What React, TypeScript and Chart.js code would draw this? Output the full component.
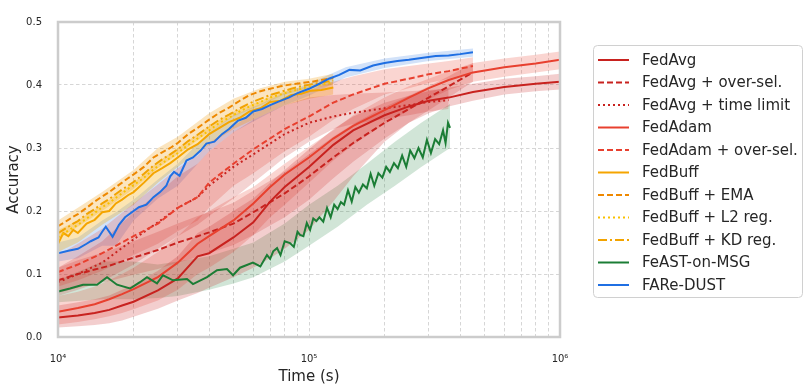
import React, { useEffect, useRef } from "react";
import { Chart, registerables } from "chart.js";

Chart.register(...registerables);

// ---------- axis ticks ----------
const X_TICKS = [1e4, 2e4, 3e4, 4e4, 5e4, 6e4, 7e4, 8e4, 9e4, 1e5, 2e5, 3e5, 4e5, 5e5, 6e5, 7e5, 8e5, 9e5, 1e6];
const X_MAJOR = [1e4, 1e5, 1e6];
const X_MAJOR_LABELS = ["10⁴", "10⁵", "10⁶"];
const Y_TICKS = [0, 0.1, 0.2, 0.3, 0.4, 0.5];
const Y_TICK_LABELS = ["0.0", "0.1", "0.2", "0.3", "0.4", "0.5"];

// ---------- FedAvg / FedAdam (full range) ----------
const T_FULL = [1e4, 1.2e4, 1.4e4, 1.6e4, 1.8e4, 2e4, 2.5e4, 3e4, 3.6e4, 4e4, 5e4, 6e4, 7e4, 8e4, 1e5, 1.25e5, 1.5e5, 2e5, 2.5e5, 3e5, 3.6e5, 4.5e5, 6e5, 8e5, 1e6];
const FEDAVG = [0.031, 0.034, 0.038, 0.043, 0.05, 0.056, 0.074, 0.093, 0.128, 0.133, 0.158, 0.182, 0.215, 0.238, 0.27, 0.305, 0.328, 0.352, 0.366, 0.375, 0.38, 0.389, 0.397, 0.402, 0.405];
const FEDAVG_LO = [0.015, 0.017, 0.019, 0.022, 0.026, 0.032, 0.045, 0.058, 0.07, 0.078, 0.095, 0.11, 0.125, 0.14, 0.17, 0.215, 0.255, 0.31, 0.34, 0.355, 0.366, 0.375, 0.385, 0.39, 0.393];
const FEDAVG_HI = [0.05, 0.055, 0.06, 0.066, 0.075, 0.083, 0.105, 0.128, 0.165, 0.175, 0.2, 0.22, 0.245, 0.265, 0.298, 0.33, 0.35, 0.372, 0.383, 0.39, 0.396, 0.402, 0.41, 0.414, 0.418];

const FEDADAM = [0.04, 0.046, 0.052, 0.06, 0.068, 0.076, 0.095, 0.118, 0.148, 0.16, 0.185, 0.212, 0.238, 0.258, 0.285, 0.315, 0.335, 0.36, 0.38, 0.395, 0.408, 0.42, 0.428, 0.434, 0.44];
const FEDADAM_LO = [0.02, 0.024, 0.028, 0.033, 0.038, 0.044, 0.058, 0.075, 0.1, 0.11, 0.135, 0.162, 0.19, 0.21, 0.245, 0.28, 0.305, 0.338, 0.36, 0.377, 0.392, 0.405, 0.413, 0.42, 0.425];
const FEDADAM_HI = [0.065, 0.072, 0.08, 0.09, 0.1, 0.11, 0.135, 0.16, 0.19, 0.2, 0.222, 0.238, 0.258, 0.275, 0.302, 0.328, 0.352, 0.38, 0.398, 0.41, 0.422, 0.435, 0.442, 0.448, 0.453];

// ---------- FedAvg + over-sel. ----------
const T_OS = [1e4, 1.2e4, 1.4e4, 1.6e4, 1.8e4, 2e4, 2.5e4, 3e4, 3.6e4, 4e4, 5e4, 6e4, 8e4, 1e5, 1.25e5, 1.5e5, 2e5, 2.5e5, 3e5, 3.6e5, 4.5e5];
const FEDAVG_OS = [0.09, 0.1, 0.107, 0.113, 0.12, 0.126, 0.138, 0.15, 0.16, 0.166, 0.18, 0.198, 0.228, 0.255, 0.285, 0.308, 0.34, 0.362, 0.38, 0.398, 0.42];
const FEDAVG_OS_LO = [0.07, 0.078, 0.084, 0.089, 0.094, 0.099, 0.108, 0.118, 0.127, 0.133, 0.146, 0.162, 0.19, 0.218, 0.252, 0.278, 0.315, 0.34, 0.36, 0.38, 0.405];
const FEDAVG_OS_HI = [0.11, 0.122, 0.13, 0.137, 0.145, 0.152, 0.167, 0.18, 0.192, 0.198, 0.213, 0.232, 0.262, 0.29, 0.318, 0.338, 0.365, 0.383, 0.398, 0.414, 0.435];

// ---------- FedAvg + time limit ----------
const T_TL = [1e4, 1.2e4, 1.5e4, 2e4, 2.5e4, 3e4, 3.6e4, 4e4, 5e4, 6e4, 8e4, 1e5, 1.25e5, 1.5e5, 2e5, 2.5e5, 3e5, 3.6e5];
const FEDAVG_TL = [0.087, 0.1, 0.118, 0.155, 0.182, 0.205, 0.222, 0.24, 0.27, 0.29, 0.322, 0.34, 0.35, 0.356, 0.363, 0.368, 0.373, 0.376];
const FEDAVG_TL_LO = [0.065, 0.075, 0.088, 0.115, 0.14, 0.16, 0.178, 0.192, 0.22, 0.245, 0.285, 0.31, 0.33, 0.338, 0.346, 0.352, 0.358, 0.362];
const FEDAVG_TL_HI = [0.11, 0.128, 0.152, 0.198, 0.228, 0.255, 0.275, 0.295, 0.325, 0.345, 0.368, 0.38, 0.384, 0.386, 0.388, 0.39, 0.392, 0.394];

// ---------- FedAdam + over-sel. ----------
const T_AOS = [1e4, 1.2e4, 1.5e4, 2e4, 2.5e4, 3e4, 3.6e4, 4e4, 5e4, 6e4, 8e4, 1e5, 1.25e5, 1.5e5, 2e5, 2.5e5, 3e5, 3.6e5, 4e5, 4.5e5];
const FEDADAM_OS = [0.103, 0.115, 0.133, 0.16, 0.18, 0.205, 0.222, 0.245, 0.275, 0.298, 0.33, 0.35, 0.372, 0.385, 0.402, 0.41, 0.417, 0.422, 0.426, 0.43];
const FEDADAM_OS_LO = [0.08, 0.09, 0.105, 0.13, 0.148, 0.168, 0.185, 0.205, 0.24, 0.26, 0.295, 0.318, 0.345, 0.362, 0.385, 0.395, 0.403, 0.41, 0.415, 0.418];
const FEDADAM_OS_HI = [0.13, 0.148, 0.172, 0.212, 0.242, 0.268, 0.288, 0.308, 0.335, 0.355, 0.377, 0.392, 0.405, 0.414, 0.425, 0.43, 0.434, 0.438, 0.441, 0.444];

// ---------- FedBuff family ----------
const T_FB = [1e4, 1.05e4, 1.1e4, 1.15e4, 1.2e4, 1.3e4, 1.4e4, 1.5e4, 1.6e4, 1.7e4, 1.8e4, 1.9e4, 2e4, 2.2e4, 2.4e4, 2.6e4, 2.8e4, 3e4, 3.3e4, 3.6e4, 4e4, 4.4e4, 4.8e4, 5.3e4, 5.8e4, 6.4e4, 7e4, 7.7e4, 8.5e4, 9.3e4, 1.02e5, 1.12e5, 1.25e5];
const FEDBUFF = [0.148, 0.165, 0.16, 0.17, 0.165, 0.18, 0.186, 0.198, 0.2, 0.212, 0.218, 0.225, 0.23, 0.245, 0.26, 0.268, 0.276, 0.285, 0.298, 0.306, 0.322, 0.332, 0.341, 0.348, 0.358, 0.363, 0.373, 0.375, 0.384, 0.386, 0.391, 0.392, 0.396];
const FEDBUFF_EMA = [0.176, 0.181, 0.186, 0.191, 0.195, 0.205, 0.215, 0.223, 0.23, 0.238, 0.245, 0.252, 0.258, 0.27, 0.285, 0.293, 0.3, 0.308, 0.322, 0.332, 0.345, 0.356, 0.364, 0.375, 0.384, 0.39, 0.394, 0.398, 0.401, 0.403, 0.405, 0.408, 0.411];
const FEDBUFF_L2 = [0.158, 0.164, 0.169, 0.174, 0.178, 0.188, 0.197, 0.206, 0.213, 0.221, 0.228, 0.235, 0.241, 0.253, 0.266, 0.276, 0.284, 0.292, 0.305, 0.315, 0.328, 0.34, 0.348, 0.358, 0.366, 0.373, 0.38, 0.385, 0.39, 0.394, 0.398, 0.401, 0.404];
const FEDBUFF_KD = [0.165, 0.17, 0.175, 0.18, 0.184, 0.195, 0.203, 0.212, 0.219, 0.227, 0.234, 0.24, 0.246, 0.259, 0.272, 0.282, 0.29, 0.298, 0.311, 0.321, 0.334, 0.345, 0.353, 0.363, 0.371, 0.378, 0.384, 0.389, 0.394, 0.398, 0.401, 0.404, 0.407];

const T_FBB = [1e4, 1.2e4, 1.5e4, 2e4, 2.5e4, 3e4, 4e4, 5e4, 6.4e4, 8e4, 1e5, 1.25e5];
const FEDBUFF_LO = [0.135, 0.15, 0.178, 0.21, 0.245, 0.27, 0.305, 0.33, 0.35, 0.368, 0.378, 0.385];
const FEDBUFF_HI = [0.17, 0.185, 0.21, 0.245, 0.278, 0.3, 0.335, 0.358, 0.375, 0.39, 0.398, 0.405];
const FEDBUFF_VAR_LO = [0.155, 0.175, 0.2, 0.235, 0.268, 0.29, 0.325, 0.35, 0.368, 0.385, 0.395, 0.4];
const FEDBUFF_VAR_HI = [0.185, 0.205, 0.23, 0.265, 0.3, 0.318, 0.355, 0.378, 0.395, 0.405, 0.41, 0.418];

// ---------- FeAST-on-MSG ----------
const T_FEAST = [1e4, 1.116e4, 1.258e4, 1.43e4, 1.568e4, 1.718e4, 1.936e4, 2.122e4, 2.262e4, 2.48e4, 2.62e4, 2.872e4, 3.266e4, 3.45e4, 3.924e4, 4.3e4, 4.713e4, 4.98e4, 5.31e4, 5.98e4, 6.4e4, 6.8e4, 7.0e4, 7.2e4, 7.46e4, 7.7e4, 8.0e4, 8.4e4, 8.7e4, 9.0e4, 9.21e4, 9.5e4, 9.8e4, 1.01e5, 1.04e5, 1.07e5, 1.1e5, 1.14e5, 1.18e5, 1.22e5, 1.26e5, 1.3e5, 1.34e5, 1.38e5, 1.43e5, 1.48e5, 1.53e5, 1.58e5, 1.64e5, 1.7e5, 1.76e5, 1.82e5, 1.89e5, 1.96e5, 2.03e5, 2.1e5, 2.18e5, 2.26e5, 2.35e5, 2.44e5, 2.53e5, 2.63e5, 2.73e5, 2.84e5, 2.95e5, 3.06e5, 3.18e5, 3.3e5, 3.42e5, 3.5e5, 3.58e5, 3.647e5];
const FEAST = [0.072, 0.077, 0.083, 0.083, 0.095, 0.083, 0.077, 0.087, 0.095, 0.085, 0.098, 0.09, 0.092, 0.084, 0.095, 0.106, 0.108, 0.098, 0.11, 0.118, 0.112, 0.13, 0.124, 0.136, 0.141, 0.13, 0.152, 0.149, 0.143, 0.167, 0.162, 0.16, 0.181, 0.17, 0.188, 0.184, 0.19, 0.183, 0.205, 0.19, 0.21, 0.203, 0.214, 0.21, 0.233, 0.215, 0.238, 0.229, 0.242, 0.236, 0.259, 0.24, 0.26, 0.253, 0.27, 0.262, 0.276, 0.268, 0.288, 0.27, 0.296, 0.284, 0.3, 0.285, 0.313, 0.292, 0.314, 0.306, 0.328, 0.308, 0.34, 0.332];
const T_FEAST_B = [1e4, 1.5e4, 2e4, 2.5e4, 3e4, 4e4, 5e4, 6e4, 8e4, 1e5, 1.3e5, 1.7e5, 2.2e5, 2.8e5, 3.647e5];
const FEAST_LO = [0.055, 0.06, 0.06, 0.062, 0.065, 0.075, 0.085, 0.095, 0.12, 0.145, 0.175, 0.21, 0.24, 0.27, 0.3];
const FEAST_HI = [0.09, 0.12, 0.12, 0.115, 0.12, 0.128, 0.14, 0.15, 0.18, 0.21, 0.24, 0.275, 0.31, 0.34, 0.37];

// ---------- FARe-DUST ----------
const T_DUST = [1e4, 1.1e4, 1.2e4, 1.3e4, 1.35e4, 1.45e4, 1.5e4, 1.55e4, 1.65e4, 1.75e4, 1.85e4, 2e4, 2.1e4, 2.25e4, 2.4e4, 2.55e4, 2.7e4, 2.8e4, 2.9e4, 3.05e4, 3.25e4, 3.45e4, 3.7e4, 3.9e4, 4.2e4, 4.5e4, 4.8e4, 5.2e4, 5.6e4, 6e4, 6.5e4, 7e4, 7.6e4, 8.3e4, 9e4, 1e5, 1.1e5, 1.2e5, 1.32e5, 1.45e5, 1.6e5, 1.8e5, 2e5, 2.25e5, 2.5e5, 2.8e5, 3.2e5, 3.6e5, 4e5, 4.5e5];
const DUST = [0.133, 0.137, 0.14, 0.148, 0.152, 0.158, 0.167, 0.175, 0.159, 0.178, 0.19, 0.2, 0.206, 0.21, 0.222, 0.23, 0.24, 0.255, 0.262, 0.256, 0.28, 0.285, 0.296, 0.307, 0.31, 0.322, 0.33, 0.343, 0.348, 0.358, 0.362, 0.368, 0.374, 0.38, 0.387, 0.394, 0.402, 0.41, 0.416, 0.424, 0.423, 0.431, 0.435, 0.438, 0.44, 0.443, 0.446, 0.447, 0.449, 0.452];
const T_DUST_B = [1e4, 1.2e4, 1.5e4, 1.7e4, 2e4, 2.5e4, 3e4, 4e4, 5e4, 6.4e4, 8e4, 1e5, 1.4e5, 2e5, 3e5, 4.5e5];
const DUST_LO = [0.12, 0.125, 0.145, 0.145, 0.185, 0.22, 0.24, 0.295, 0.325, 0.348, 0.368, 0.383, 0.412, 0.427, 0.438, 0.445];
const DUST_HI = [0.15, 0.158, 0.185, 0.198, 0.218, 0.25, 0.275, 0.325, 0.352, 0.37, 0.388, 0.402, 0.428, 0.442, 0.451, 0.458];

// ---------- styles ----------
const C_AVG = "#c8221f";
const C_ADAM = "#e8402f";
const C_BUFF = "#f5a500";
const C_EMA = "#ee8800";
const C_L2 = "#f9c000";
const C_KD = "#f2a300";
const C_FEAST = "#1b7d35";
const C_DUST = "#1f6fe3";
const DASH = [6, 3];
const DOT = [2, 3];
const DASHDOT = [9, 3, 2, 3];

const LINES = [
  { label: "FedAvg", t: T_FULL, y: FEDAVG, color: C_AVG, dash: [] as number[] },
  { label: "FedAvg + over-sel.", t: T_OS, y: FEDAVG_OS, color: C_AVG, dash: DASH },
  { label: "FedAvg + time limit", t: T_TL, y: FEDAVG_TL, color: C_AVG, dash: DOT },
  { label: "FedAdam", t: T_FULL, y: FEDADAM, color: C_ADAM, dash: [] as number[] },
  { label: "FedAdam + over-sel.", t: T_AOS, y: FEDADAM_OS, color: C_ADAM, dash: DASH },
  { label: "FedBuff", t: T_FB, y: FEDBUFF, color: C_BUFF, dash: [] as number[] },
  { label: "FedBuff + EMA", t: T_FB, y: FEDBUFF_EMA, color: C_EMA, dash: DASH },
  { label: "FedBuff + L2 reg.", t: T_FB, y: FEDBUFF_L2, color: C_L2, dash: DOT },
  { label: "FedBuff + KD reg.", t: T_FB, y: FEDBUFF_KD, color: C_KD, dash: DASHDOT },
  { label: "FeAST-on-MSG", t: T_FEAST, y: FEAST, color: C_FEAST, dash: [] as number[] },
  { label: "FARe-DUST", t: T_DUST, y: DUST, color: C_DUST, dash: [] as number[] },
];

const BANDS = [
  { t: T_FULL, lo: FEDAVG_LO, hi: FEDAVG_HI, color: "rgba(200,34,31,0.22)" },
  { t: T_OS, lo: FEDAVG_OS_LO, hi: FEDAVG_OS_HI, color: "rgba(200,34,31,0.2)" },
  { t: T_TL, lo: FEDAVG_TL_LO, hi: FEDAVG_TL_HI, color: "rgba(200,34,31,0.2)" },
  { t: T_FULL, lo: FEDADAM_LO, hi: FEDADAM_HI, color: "rgba(232,64,47,0.22)" },
  { t: T_AOS, lo: FEDADAM_OS_LO, hi: FEDADAM_OS_HI, color: "rgba(232,64,47,0.22)" },
  { t: T_FBB, lo: FEDBUFF_LO, hi: FEDBUFF_HI, color: "rgba(245,170,0,0.3)" },
  { t: T_FBB, lo: FEDBUFF_VAR_LO, hi: FEDBUFF_VAR_HI, color: "rgba(240,150,0,0.25)" },
  { t: T_FEAST_B, lo: FEAST_LO, hi: FEAST_HI, color: "rgba(27,125,53,0.2)" },
  { t: T_DUST_B, lo: DUST_LO, hi: DUST_HI, color: "rgba(31,111,227,0.2)" },
];

const pts = (t: number[], v: number[]) => t.map((x, i) => ({ x, y: v[i] }));

const FONT = '"DejaVu Sans", sans-serif';

const decor = {
  id: "decor",
  afterDatasetsDraw(chart: any) {
    const { ctx, chartArea: a } = chart;
    ctx.save();
    ctx.strokeStyle = "#cccccc";
    ctx.lineWidth = 2.5;
    ctx.strokeRect(a.left, a.top, a.right - a.left, a.bottom - a.top);
    ctx.restore();
  },
  afterDraw(chart: any) {
    const { ctx, chartArea: a } = chart;
    ctx.save();
    ctx.fillStyle = "#262626";
    ctx.font = `15px ${FONT}`;
    ctx.textAlign = "center";
    ctx.textBaseline = "middle";
    ctx.fillText("Time (s)", (a.left + a.right) / 2, 377);
    ctx.translate(14, (a.top + a.bottom) / 2);
    ctx.rotate(-Math.PI / 2);
    ctx.fillText("Accuracy", 0, 0);
    ctx.restore();

    // legend
    ctx.save();
    const bx = 593.5, by = 45.5, bw = 209, bh = 252, r = 4;
    ctx.beginPath();
    ctx.moveTo(bx + r, by);
    ctx.lineTo(bx + bw - r, by);
    ctx.quadraticCurveTo(bx + bw, by, bx + bw, by + r);
    ctx.lineTo(bx + bw, by + bh - r);
    ctx.quadraticCurveTo(bx + bw, by + bh, bx + bw - r, by + bh);
    ctx.lineTo(bx + r, by + bh);
    ctx.quadraticCurveTo(bx, by + bh, bx, by + bh - r);
    ctx.lineTo(bx, by + r);
    ctx.quadraticCurveTo(bx, by, bx + r, by);
    ctx.closePath();
    ctx.fillStyle = "rgba(255,255,255,0.9)";
    ctx.fill();
    ctx.strokeStyle = "#d0d0d0";
    ctx.lineWidth = 1;
    ctx.stroke();
    ctx.font = `15px ${FONT}`;
    ctx.textAlign = "left";
    ctx.textBaseline = "middle";
    LINES.forEach((s, i) => {
      const y = 60 + i * 22.5;
      ctx.beginPath();
      ctx.setLineDash(s.dash);
      ctx.strokeStyle = s.color;
      ctx.lineWidth = 2;
      ctx.moveTo(598, y);
      ctx.lineTo(629, y);
      ctx.stroke();
      ctx.setLineDash([]);
      ctx.fillStyle = "#262626";
      ctx.fillText(s.label, 642, y + 1);
    });
    ctx.restore();
  },
};

export default function App() {
  const ref = useRef<HTMLCanvasElement | null>(null);
  useEffect(() => {
    if (!ref.current) return;
    const datasets: any[] = [];
    LINES.forEach((s, i) => {
      datasets.push({
        label: s.label,
        data: pts(s.t, s.y),
        borderColor: s.color,
        borderWidth: 2,
        borderDash: s.dash,
        pointRadius: 0,
        fill: false,
        tension: 0,
        order: 50 - i,
      });
    });
    BANDS.forEach((b) => {
      datasets.push({
        data: pts(b.t, b.hi),
        borderWidth: 0,
        borderColor: "rgba(0,0,0,0)",
        backgroundColor: b.color,
        pointRadius: 0,
        fill: "+1",
        tension: 0,
        order: 100,
      });
      datasets.push({
        data: pts(b.t, b.lo),
        borderWidth: 0,
        borderColor: "rgba(0,0,0,0)",
        pointRadius: 0,
        fill: false,
        tension: 0,
        order: 100,
      });
    });

    const chart = new Chart(ref.current, {
      type: "line",
      data: { datasets },
      options: {
        animation: false,
        responsive: false,
        events: [],
        layout: { padding: { top: 11, right: 250, left: 0, bottom: 0 } },
        plugins: { legend: { display: false }, tooltip: { enabled: false } },
        scales: {
          x: {
            type: "logarithmic",
            min: 1e4,
            max: 1e6,
            afterBuildTicks: (scale: any) => {
              scale.ticks = X_TICKS.map((v) => ({ value: v }));
            },
            afterFit: (scale: any) => {
              scale.height = 55;
            },
            ticks: {
              autoSkip: false,
              maxRotation: 0,
              padding: 16,
              color: "#262626",
              font: { family: FONT, size: 10 },
              callback: (v: any) => {
                const k = X_MAJOR.indexOf(Number(v));
                return k >= 0 ? X_MAJOR_LABELS[k] : "";
              },
            },
            grid: { color: "#d6d6d6", lineWidth: 1, drawTicks: false },
            border: { display: false, dash: [3.5, 2.5] },
          },
          y: {
            type: "linear",
            min: 0,
            max: 0.5,
            afterBuildTicks: (scale: any) => {
              scale.ticks = Y_TICKS.map((v) => ({ value: v }));
            },
            afterFit: (scale: any) => {
              scale.width = 58;
            },
            ticks: {
              padding: 16,
              color: "#262626",
              font: { family: FONT, size: 10 },
              callback: (v: any) => {
                const k = Y_TICKS.findIndex((t) => Math.abs(t - Number(v)) < 1e-9);
                return k >= 0 ? Y_TICK_LABELS[k] : "";
              },
            },
            grid: { color: "#d6d6d6", lineWidth: 1, drawTicks: false },
            border: { display: false, dash: [3.5, 2.5] },
          },
        },
      },
      plugins: [decor],
    } as any);
    return () => chart.destroy();
  }, []);

  return (
    <div style={{ position: "absolute", left: 0, top: 0, width: 810, height: 392, background: "#fff" }}>
      <canvas ref={ref} width={810} height={392} style={{ display: "block" }} />
    </div>
  );
}
